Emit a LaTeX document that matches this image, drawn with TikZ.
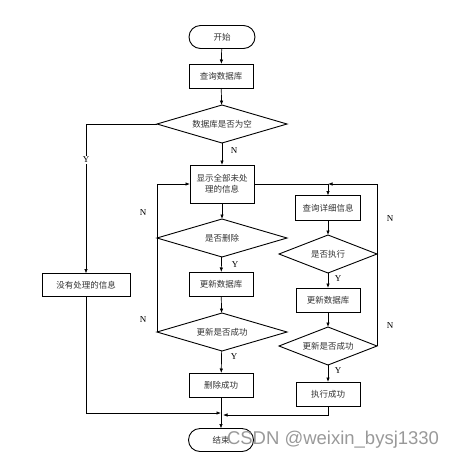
\documentclass[tikz,border=0pt]{standalone}
\usepackage{fontspec}
\setmainfont{Liberation Serif}
\newfontfamily\cjk{Noto Sans CJK SC}
\newfontfamily\wm{Liberation Sans}
\usetikzlibrary{shapes.geometric,arrows.meta,calc}
\begin{document}
\begin{tikzpicture}[x=1pt,y=-1pt,
  every node/.style={inner sep=0pt,outer sep=0pt},
  proc/.style={draw,line width=0.9pt,rectangle,minimum width=64pt,minimum height=24pt,font=\cjk\fontsize{8.5}{11}\selectfont,text=black!80,align=center},
  term/.style={draw,line width=0.9pt,rectangle,rounded corners=11.5pt,minimum width=66pt,minimum height=23pt,font=\cjk\fontsize{8.5}{11}\selectfont,text=black!80},
  dec/.style={draw,line width=0.9pt,diamond,shape aspect=3,minimum width=130pt,minimum height=38pt,font=\cjk\fontsize{8.5}{11}\selectfont,text=black!80},
  decs/.style={dec,minimum width=98pt},
  conn/.style={line width=0.7pt},
  arr/.style={conn,-{Latex[length=4.5pt,width=3.5pt]}},
  lab/.style={font=\fontsize{9}{10}\selectfont}]
\useasboundingbox (0,0) rectangle (460,459);
% nodes
\node[term] (start) at (222,37) {开始};
\node[proc] (q1) at (221,76) {查询数据库};
\node[dec] (d1) at (222,124) {数据库是否为空};
\node[proc,minimum height=38pt] (show) at (222,184) {显示全部未处\\理的信息};
\node[proc,minimum width=88pt,minimum height=23pt] (none) at (86,285) {没有处理的信息};
\node[dec] (del) at (222,238) {是否删除};
\node[proc] (upd1) at (221,284) {更新数据库};
\node[dec] (suc1) at (222,332) {更新是否成功};
\node[proc] (delok) at (221,385) {删除成功};
\node[proc,minimum width=65pt,minimum height=25pt] (detail) at (328,208) {查询详细信息};
\node[decs] (exe) at (328,254) {是否执行};
\node[proc] (upd2) at (328,300) {更新数据库};
\node[decs] (suc2) at (328,346) {更新是否成功};
\node[proc] (exeok) at (328,394) {执行成功};
\node[term,minimum width=65pt] (end) at (221,440) {结束};
\coordinate (J) at (detail.north |- show.east);
\coordinate (jl) at (221,413);
\coordinate (jr) at (223,415);
% connectors
\draw[arr] (start) -- (q1);
\draw[arr] (q1) -- (d1);
\draw[arr] (d1) -- (show);
\node[lab] at (234,151) {N};
\draw[arr] (d1.west) -| node[pos=0.62,fill=white,inner sep=1pt,lab] {Y} (none.north);
\draw[arr] (show) -- (del);
\draw[arr] (del) -- (upd1);
\node[lab] at (235,265) {Y};
\draw[arr] (upd1) -- (suc1);
\draw[arr] (suc1) -- (delok);
\node[lab] at (234,357) {Y};
\draw[conn] (suc1.west) -- (del.west);
\draw[arr] (del.west) |- (show.west);
\node[lab] at (143,213) {N};
\node[lab] at (143,320) {N};
\draw[conn] (show.east) -- (J);
\draw[arr] (J) -- (detail);
\draw[arr] (detail) -- (exe);
\draw[arr] (exe) -- (upd2);
\node[lab] at (338,279) {Y};
\draw[arr] (upd2) -- (suc2);
\draw[arr] (suc2) -- (exeok);
\node[lab] at (338,371) {Y};
\draw[conn] (suc2.east) -- (exe.east);
\draw[arr] (exe.east) |- (J);
\node[lab] at (390,219) {N};
\node[lab] at (390,326) {N};
\draw[arr] (none.south) |- (jl);
\draw[arr] (exeok.south) |- (jr);
\draw[arr] (delok) -- (end);
% watermark
\node[anchor=west,text=black!40,font=\wm\fontsize{18.5}{20}\selectfont] at (227,440) {CSDN @weixin\_bysj1330};
\end{tikzpicture}
\end{document}
